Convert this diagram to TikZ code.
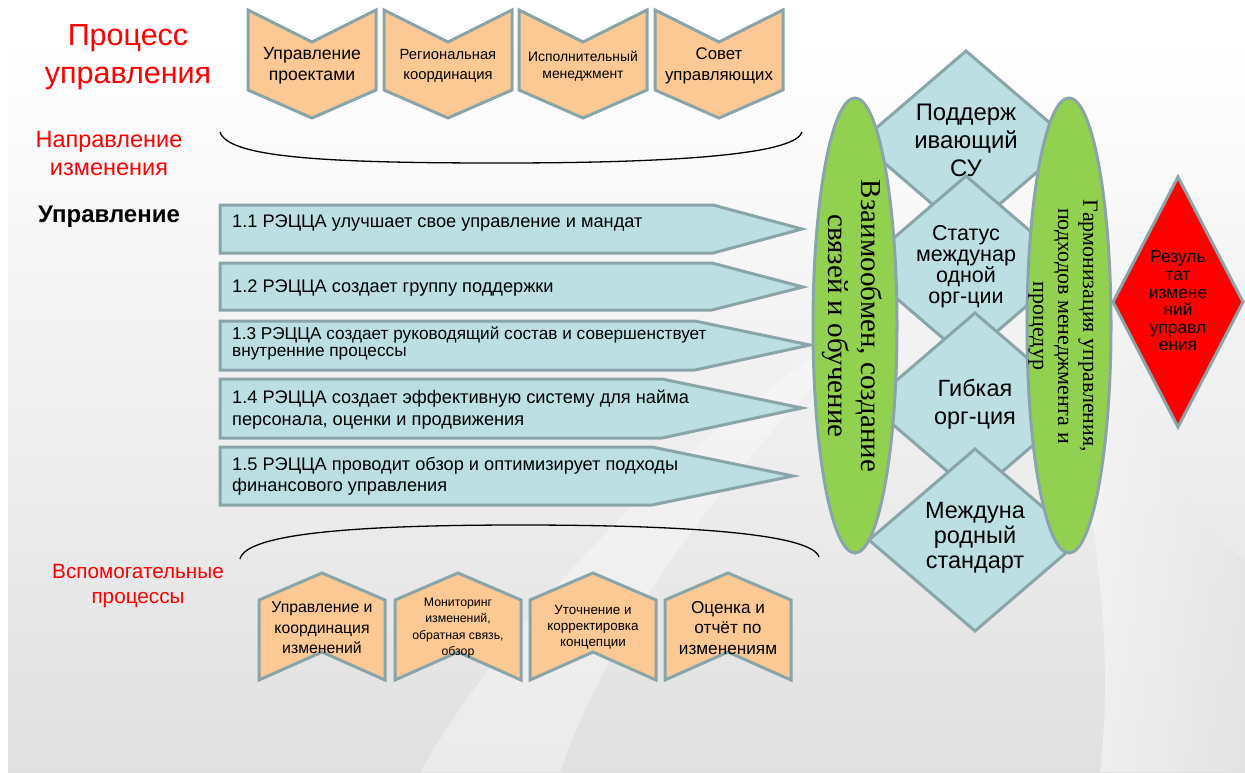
\documentclass[tikz,border=0pt]{standalone}
\usepackage{fontspec}
\setmainfont{Liberation Sans}
\newfontfamily\serifrm{Liberation Serif}
\usetikzlibrary{shapes.geometric}
\definecolor{peach}{HTML}{FCC995}
\definecolor{edgec}{HTML}{8AA5AA}
\definecolor{boxteal}{HTML}{BBDFE3}
\definecolor{leaf}{HTML}{92D050}
\definecolor{redc}{HTML}{FF0000}
\begin{document}
\begin{tikzpicture}[x=1pt,y=-1pt,
  chev/.style={fill=peach,draw=edgec,line width=3pt,line join=miter},
  arrowbox/.style={fill=boxteal,draw=edgec,line width=3pt,line join=miter},
  dia/.style={fill=boxteal,draw=edgec,line width=3pt,line join=miter},
  oval/.style={fill=leaf,draw=edgec,line width=3pt},
  brace/.style={draw=black,line width=1.3pt},
  redtitle/.style={text=redc,align=center,inner sep=0pt},
  lbl/.style={align=center,inner sep=0pt,text=black},
  boxtxt/.style={anchor=west,align=left,inner sep=0pt,font=\fontsize{18.2}{18}\selectfont}
]
\useasboundingbox (0,0) rectangle (1245,772);
% background
\fill[white] (0,0) rectangle (1245,772);
\shade[top color=white,bottom color=black!12] (8,40) rectangle (1245,772);
\shade[left color=black!0,right color=black!10,opacity=0.7] (1000,200) .. controls (1150,300) and (1150,500) .. (1245,560) -- (1245,772) -- (1100,772) .. controls (1120,600) and (1080,400) .. (1000,200) -- cycle;
\fill[white,opacity=0.35] (420,772) .. controls (520,600) and (700,420) .. (900,300) .. controls (760,430) and (620,600) .. (560,772) -- cycle;

% titles
\node[redtitle,font=\fontsize{30.5}{38}\selectfont] (proc) at (128,57) {Процесс\\управления};
\node[redtitle,font=\fontsize{23.5}{28}\selectfont] (napr) at (109,154) {Направление\\изменения};
\node[lbl,font=\bfseries\fontsize{24}{26}\selectfont] (upr) at (109,217) {Управление};
\node[redtitle,font=\fontsize{20.7}{25}\selectfont] (vsp) at (138,586) {Вспомогательные\\процессы};

% top chevrons
\foreach \cx/\nm in {312/c1,448/c2,583/c3,719/c4}{
  \draw[chev] (\cx-64,10) -- (\cx,42) -- (\cx+64,10) -- (\cx+64,90) -- (\cx,118) -- (\cx-64,90) -- cycle;
}
\node[lbl,font=\fontsize{17.6}{21}\selectfont] (tc1) at (312,66) {Управление\\проектами};
\node[lbl,font=\fontsize{14.8}{19.5}\selectfont] (tc2) at (448,66) {Региональная\\координация};
\node[lbl,font=\fontsize{13.9}{17}\selectfont] (tc3) at (583,66) {Исполнительный\\менеджмент};
\node[lbl,font=\fontsize{16.8}{20.5}\selectfont] (tc4) at (719,66) {Совет\\управляющих};

% braces
\coordinate (tbA) at (220,132);
\coordinate (tbM) at (500,163);
\coordinate (tbB) at (802,132);
\draw[brace] (tbA) .. controls (228,158) and (330,163) .. (tbM) .. controls (700,163) and (796,152) .. (tbB);
\coordinate (bbA) at (240,559);
\coordinate (bbM) at (520,525);
\coordinate (bbB) at (819,557);
\draw[brace] (bbA) .. controls (246,533) and (360,525) .. (bbM) .. controls (700,525) and (812,535) .. (bbB);

% arrow boxes
\draw[arrowbox] (220,205) -- (713,205) -- (802,229) -- (713,253) -- (220,253) -- cycle;
\draw[arrowbox] (220,263) -- (712,263) -- (803,287) -- (712,310) -- (220,310) -- cycle;
\draw[arrowbox] (220,321) -- (695,321) -- (810,345) -- (695,370) -- (220,370) -- cycle;
\draw[arrowbox] (220,379) -- (662,379) -- (802,408) -- (662,438) -- (220,438) -- cycle;
\draw[arrowbox] (220,447) -- (652,447) -- (793,476) -- (652,505) -- (220,505) -- cycle;
\node[boxtxt] (b1) at (232,223) {1.1 РЭЦЦА улучшает свое управление и мандат};
\node[boxtxt] (b2) at (232,288) {1.2 РЭЦЦА создает группу поддержки};
\node[boxtxt,font=\fontsize{17.2}{17}\selectfont] (b3) at (232,343.5) {1.3 РЭЦЦА создает руководящий состав и совершенствует\\внутренние процессы};
\node[boxtxt,font=\fontsize{18.2}{22}\selectfont] (b4) at (232,410) {1.4 РЭЦЦА создает эффективную систему для найма\\персонала, оценки и продвижения};
\node[boxtxt,font=\fontsize{18.2}{21}\selectfont] (b5) at (232,476) {1.5 РЭЦЦА проводит обзор и оптимизирует подходы\\финансового управления};

% diamonds
\foreach \cx/\cy in {966/142,966/267,975/404,975/540}{
  \draw[dia] (\cx,\cy-91) -- (\cx+106,\cy) -- (\cx,\cy+91) -- (\cx-106,\cy) -- cycle;
}
\node[lbl,font=\fontsize{23.9}{28}\selectfont] (d1) at (966,140) {Поддерж\\ивающий\\СУ};
\node[lbl,font=\fontsize{21.5}{21}\selectfont] (d2) at (966,267) {Статус\\междунар\\одной\\орг-ции};
\node[lbl,font=\fontsize{23.5}{28}\selectfont] (d3) at (975,404) {Гибкая\\орг-ция};
\node[lbl,font=\fontsize{23.5}{25}\selectfont] (d4) at (975,538) {Междуна\\родный\\стандарт};

% ellipses
\draw[oval] (855,325.5) ellipse [x radius=42,y radius=227.5];
\draw[oval] (1069,325.5) ellipse [x radius=42,y radius=227.5];
\node[lbl,rotate=-90,font=\serifrm\fontsize{29}{33}\selectfont] (e1) at (852,326) {Взаимообмен, создание\\связей и обучение};
\node[lbl,rotate=-90,font=\serifrm\fontsize{22}{25}\selectfont] (e2) at (1063,326) {Гармонизация управления,\\подходов менеджмента и\\процедур};

% red diamond
\draw[dia,fill=redc] (1178,177) -- (1243,302) -- (1178,427) -- (1113,302) -- cycle;
\node[lbl,font=\fontsize{17.3}{17.6}\selectfont] (res) at (1178,301) {Резуль\\тат\\измене\\ний\\управл\\ения};

% bottom chevrons
\foreach \cx in {322,458,593,728}{
  \draw[chev] (\cx-63,600) -- (\cx,573) -- (\cx+63,600) -- (\cx+63,680) -- (\cx,652) -- (\cx-63,680) -- cycle;
}
\node[lbl,font=\fontsize{15.8}{20.5}\selectfont] (p1) at (322,628) {Управление и\\координация\\изменений};
\node[lbl,font=\fontsize{12.3}{16.3}\selectfont] (p2) at (458,628) {Мониторинг\\изменений,\\обратная связь,\\обзор};
\node[lbl,font=\fontsize{13.4}{16}\selectfont] (p3) at (593,627) {Уточнение и\\корректировка\\концепции};
\node[lbl,font=\fontsize{17.2}{20.5}\selectfont] (p4) at (728,628) {Оценка и\\отчёт по\\изменениям};
\end{tikzpicture}
\end{document}
